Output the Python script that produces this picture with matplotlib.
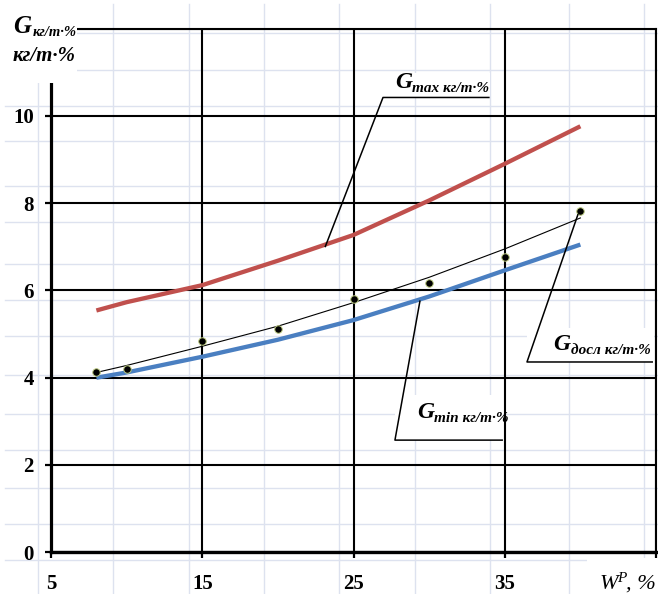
import matplotlib
matplotlib.use("Agg")
import matplotlib.pyplot as plt
from matplotlib.patches import Rectangle

# Moisture content W^P, %
W = [8, 10, 15, 20, 25, 30, 35, 40]
# Upper estimate G_max, kg/t·%
G_max = [5.54, 5.73, 6.12, 6.68, 7.27, 8.06, 8.90, 9.76]
# Lower estimate G_min, kg/t·%
G_min = [4.00, 4.12, 4.48, 4.87, 5.32, 5.86, 6.46, 7.05]
# Measured values G_досл, kg/t·%
G_exp = [4.12, 4.21, 4.83, 5.11, 5.81, 6.17, 6.77, 7.82]
# Trend through the measured values
G_trend = [4.12, 4.28, 4.72, 5.18, 5.72, 6.30, 6.95, 7.66]

x_ticks = [5, 15, 25, 35, 45]
x_ticklabels = ["5", "15", "25", "35", ""]
y_ticks = [0, 2, 4, 6, 8, 10, 12]
y_ticklabels = ["0", "2", "4", "6", "8", "10", ""]

SERIF = "Liberation Serif"
RED = "#c0504d"
BLUE = "#4a7fc1"
SHEET = "#dde2ef"

W_PX, H_PX = 658, 594
fig = plt.figure(figsize=(W_PX / 100, H_PX / 100), dpi=100)


def fx(px):
    return px / W_PX


def fy(py):
    return 1 - py / H_PX


# worksheet cell grid behind the chart
bg = fig.add_axes([0, 0, 1, 1])
bg.set_xlim(0, W_PX)
bg.set_ylim(H_PX, 0)
bg.axis("off")
sheet_cols = [37.7, 113, 189, 264, 339, 415, 490, 569, 644]
sheet_rows = [33, 70, 106, 141, 186, 222, 264, 300, 336, 375, 414, 450, 488, 524, 560]
for c in sheet_cols:
    bg.plot([c, c], [4, H_PX], color=SHEET, lw=1.0, zorder=0)
for r in sheet_rows:
    bg.plot([5, W_PX], [r, r], color=SHEET, lw=1.0, zorder=0)

# chart area
x0, x1 = 51, 656
y0, y1 = 552.3, 28.5
ax = fig.add_axes([x0 / W_PX, (H_PX - y0) / H_PX, (x1 - x0) / W_PX, (y0 - y1) / H_PX])
ax.patch.set_alpha(0)
ax.set_xlim(5, 45)
ax.set_ylim(0, 12)
ax.set_xticks(x_ticks)
ax.set_xticklabels(x_ticklabels)
ax.set_yticks(y_ticks)
ax.set_yticklabels(y_ticklabels)
ax.set_axisbelow(True)
ax.grid(True, color="black", lw=1.5)
for side, lw in (("left", 2.3), ("bottom", 2.4), ("top", 1.5), ("right", 1.5)):
    ax.spines[side].set_linewidth(lw)
    ax.spines[side].set_color("black")
ax.tick_params(axis="both", direction="out", length=4, width=1.6, colors="black")
ax.tick_params(axis="y", pad=8.5)
ax.tick_params(axis="x", pad=11.5)
for lab in ax.get_xticklabels() + ax.get_yticklabels():
    lab.set_fontfamily(SERIF)
    lab.set_fontweight("bold")
    lab.set_fontsize(15)

ax.plot(W, G_max, color=RED, lw=3.1, solid_capstyle="butt", solid_joinstyle="round", zorder=3)
ax.plot(W, G_min, color=BLUE, lw=3.1, solid_capstyle="butt", solid_joinstyle="round", zorder=3)
ax.plot(W, G_trend, color="black", lw=0.8, zorder=4)
ax.plot(W, G_exp, linestyle="none", marker="o", markersize=5.4,
        markerfacecolor="black", markeredgecolor="#b9c77c", markeredgewidth=0.7, zorder=5)


def callout(main, sub, text_xy, box, line_pts, gsize=17, ssize=11):
    bx0, bx1, by0, by1 = box
    ax.add_patch(Rectangle((bx0, by0), bx1 - bx0, by1 - by0, facecolor="white",
                           edgecolor="none", zorder=2))
    xs, ys = zip(*line_pts)
    ax.plot(xs, ys, color="black", lw=1.1, zorder=6, solid_capstyle="butt")
    g = ax.text(text_xy[0], text_xy[1], main, fontsize=gsize, fontweight="bold",
                fontstyle="italic", family=SERIF, ha="left", va="baseline", zorder=7)
    ax.annotate(sub, xy=(1, 0), xycoords=g, xytext=(0.3, -1.5), textcoords="offset points",
                fontsize=ssize, fontweight="bold", fontstyle="italic", family=SERIF,
                ha="left", va="bottom", zorder=7)


callout("G", "max кг/т·%", (27.74, 10.63), (26.95, 34.0, 10.42, 10.99),
        [(23.12, 6.99), (26.95, 10.42), (34.0, 10.42)])
callout("G", "min кг/т·%", (29.2, 3.08), (27.74, 34.88, 2.57, 3.6),
        [(29.4, 5.77), (27.74, 2.57), (34.88, 2.57)])
callout("G", "досл кг/т·%", (38.2, 4.63), (36.47, 44.85, 4.36, 5.13),
        [(39.85, 7.75), (36.47, 4.36), (44.8, 4.36)])

# axis titles in the corners
fig.add_artist(Rectangle((0, fy(83)), fx(77), 83 / H_PX, transform=fig.transFigure,
                         facecolor="white", edgecolor="none", zorder=5))
fig.add_artist(Rectangle((fx(587), 0), 1 - fx(587), 36 / H_PX, transform=fig.transFigure,
                         facecolor="white", edgecolor="none", zorder=5))

ital_bold = dict(fontweight="bold", fontstyle="italic", family=SERIF, ha="left",
                 va="baseline", zorder=6)
fig.text(fx(13), fy(33), "G", fontsize=18, **ital_bold)
fig.text(fx(33), fy(36), "кг/т·%", fontsize=10.5, **ital_bold)
fig.text(fx(13), fy(61), "кг/т·%", fontsize=15, **ital_bold)

ital = dict(fontstyle="italic", family=SERIF, ha="left", va="baseline", zorder=6)
fig.text(fx(600), fy(589), "W", fontsize=16, **ital)
fig.text(fx(617), fy(582), "P", fontsize=11, **ital)
fig.text(fx(626), fy(589), ", %", fontsize=16, **ital)

fig.savefig("out.png", dpi=100)
